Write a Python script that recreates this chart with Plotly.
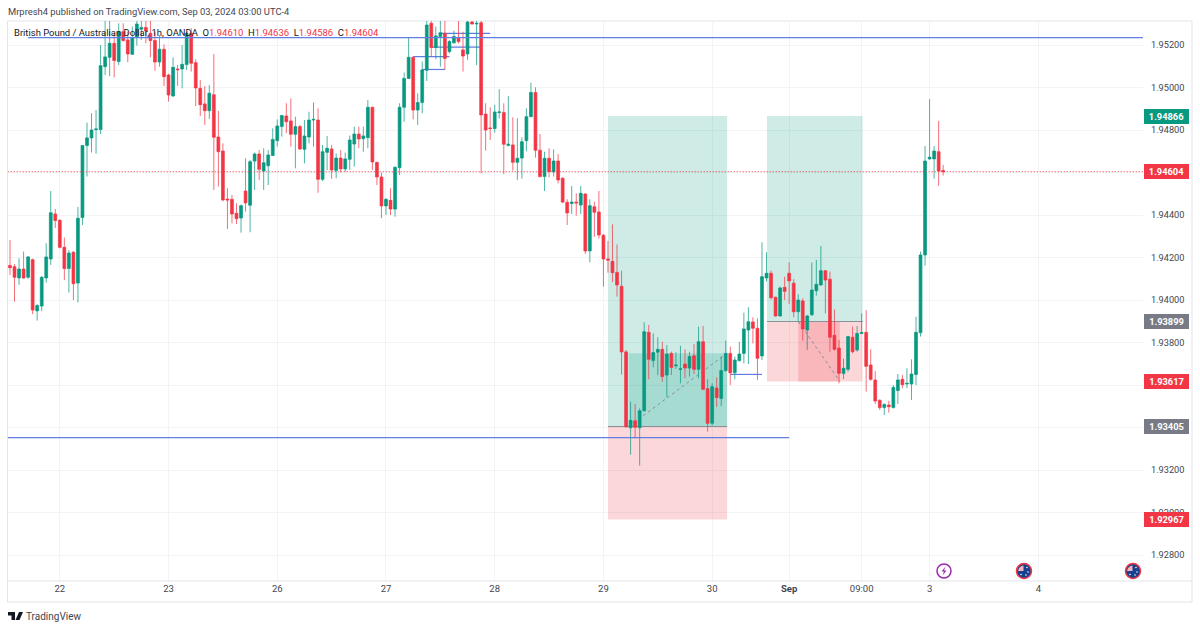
import plotly.graph_objects as go

# OHLC in 1e-5 price units, 1h bars
opens = [194163,194157,194104,194146,194107,194190,193949,193972,194104,194193,
194405,194375,194248,194148,194225,194080,194388,194727,194763,194802,
194802,195098,195142,195208,195122,195263,195224,195156,195235,195274,
195283,195255,195221,195120,195180,195059,194960,195087,195087,195108,
195255,195117,194996,194923,194891,194966,194767,194701,194475,194474,
194408,194386,194513,194446,194654,194687,194607,194632,194680,194750,
194816,194866,194843,194780,194816,194709,194767,194847,194847,194568,
194695,194711,194610,194668,194617,194662,194734,194781,194759,194764,
194907,194648,194579,194443,194469,194428,194623,194907,195043,195142,
194894,194929,195081,195302,195188,195240,195255,195169,195211,195235,
195177,195158,195308,195299,195305,194875,194810,194807,194882,194883,
194728,194730,194648,194668,194750,194863,194977,194705,194581,194667,
194603,194654,194573,194460,194454,194461,194447,194499,194231,194439,
194414,194305,194193,194182,194130,194065,193756,193399,193432,193399,
193479,193848,193715,193754,193768,193647,193749,193691,193674,193699,
193680,193738,193674,193804,193583,193420,193586,193537,193668,193749,
193658,193715,193749,193859,193897,193867,193737,194104,194126,194013,
193925,194060,194126,194079,193945,193996,193859,193931,194044,194071,
194138,194098,193834,193774,193654,193674,193825,193765,193843,193848,
193694,193624,193528,193494,193506,193494,193574,193627,193605,193605,
193650,193846,194212,194664,194664,194698,194610]

highs = [194283,194170,194196,194228,194207,194195,193981,194113,194267,194513,
194428,194380,194294,194235,194230,194438,194730,194835,194879,194894,
195200,195320,195330,195255,195302,195302,195263,195287,195330,195330,
195315,195320,195263,195247,195203,195065,195142,195106,195200,195263,
195279,195133,195035,195007,195012,195158,194890,194737,194526,194494,
194455,194450,194667,194659,194694,194706,194714,194706,194808,194850,
194871,194926,194949,194863,194824,194847,194886,194930,194902,194730,
194772,194730,194690,194706,194694,194774,194816,194816,194816,194941,
194910,194650,194600,194479,194526,194628,194926,195070,195236,195145,
194973,195122,195330,195320,195287,195330,195330,195224,195268,195320,
195263,195330,195340,195330,195330,194926,194907,194918,194992,194926,
194960,194860,194855,194766,194902,195023,195001,194781,194698,194714,
194709,194687,194578,194474,194537,194502,194537,194502,194474,194463,
194513,194310,194278,194356,194262,194138,193765,193522,193511,193490,
193895,193883,193843,193825,193804,193788,193757,193754,193785,193768,
193757,193793,193875,193878,193627,193608,193636,193734,193809,193781,
193734,193804,193941,193966,193919,193914,194272,194225,194138,194016,
194063,194110,194177,194098,194027,194008,193930,194177,194189,194254,
194141,194134,193956,193812,193724,193831,193875,193878,193937,193953,
193768,193666,193533,193514,193526,193600,193652,193647,193679,193721,
193922,194228,194725,194945,194725,194843,194636]

lows = [194118,193992,194071,194100,194100,193934,193903,193949,194082,194165,
194339,194243,194094,194035,194000,193989,194353,194581,194694,194689,
194781,195059,195054,195048,195106,195216,195119,195153,195197,195224,
195208,195142,195079,195098,195007,194934,194957,195007,194996,195083,
195075,194913,194866,194824,194852,194518,194534,194465,194334,194361,
194358,194317,194416,194319,194518,194565,194518,194541,194678,194722,
194769,194785,194722,194620,194706,194643,194737,194722,194505,194560,
194612,194570,194573,194601,194604,194612,194628,194714,194698,194714,
194612,194541,194385,194400,194400,194392,194588,194839,195040,194850,
194824,194879,195031,195145,195133,195098,195083,195161,195205,195208,
195075,195130,195296,195106,194596,194703,194753,194788,194854,194593,
194722,194609,194565,194571,194700,194860,194670,194577,194513,194577,
194581,194549,194455,194353,194405,194397,194405,194217,194177,194298,
194289,194063,194129,194085,194016,193649,193399,193272,193349,193221,
193475,193627,193683,193647,193616,193542,193647,193676,193608,193632,
193640,193652,193632,193575,193381,193410,193498,193501,193663,193600,
193627,193710,193702,193699,193796,193624,193718,194087,194003,193922,
193922,194000,193981,193919,193898,193809,193765,193925,194021,194068,
193937,193757,193762,193608,193628,193663,193750,193757,193840,193569,
193620,193511,193483,193459,193470,193490,193511,193585,193585,193530,
193600,193828,194162,194660,194571,194537,194586]

closes = [194152,194107,194146,194104,194203,193953,193974,194107,194203,194411,
194374,194248,194148,194221,194077,194385,194727,194763,194800,194805,
195103,195144,195208,195127,195263,195221,195158,195235,195299,195283,
195266,195221,195120,195180,195051,194965,195095,195084,195109,195255,
195114,194998,194919,194891,194973,194766,194698,194471,194471,194405,
194383,194444,194457,194651,194687,194615,194646,194683,194756,194819,
194868,194839,194780,194816,194711,194772,194847,194850,194568,194698,
194714,194612,194668,194617,194664,194753,194781,194758,194772,194907,
194650,194579,194443,194474,194428,194625,194907,195043,195142,194894,
194929,195083,195294,195188,195243,195258,195137,195216,195240,195216,
195148,195308,195299,195302,194871,194800,194807,194885,194885,194733,
194733,194648,194667,194745,194863,194977,194705,194581,194667,194604,
194654,194565,194461,194410,194461,194457,194502,194231,194444,194413,
194306,194193,194188,194129,194071,193756,193404,193434,193401,193479,
193851,193721,193753,193768,193640,193746,193683,193694,193676,193680,
193734,193674,193804,193580,193420,193592,193541,193668,193749,193658,
193718,193746,193864,193898,193867,193726,194110,194126,194011,193925,
194057,194041,194090,193945,194000,193864,193925,194047,194074,194138,
194094,193825,193768,193655,193679,193828,193757,193843,193847,193688,
193627,193525,193494,193509,193498,193589,193624,193602,193608,193652,
193848,194212,194654,194672,194701,194607,194604]

tick_bars = [11, 35, 59, 83, 107, 131, 155, 172, 188, 203, 227]
tick_labels = ['22', '23', '26', '27', '28', '29', '30', '<b>Sep</b>', '09:00', '3', '4']

price_ticks = [1.928, 1.930, 1.932, 1.934, 1.936, 1.938, 1.940, 1.942, 1.944, 1.946, 1.948, 1.950, 1.952]
price_tick_labels = ['1.92800', '1.93000', '1.93200', '', '', '1.93800', '1.94000', '1.94200', '1.94400', '', '1.94800', '1.95000', '1.95200']

tag_prices = [1.94866, 1.94604, 1.93899, 1.93617, 1.93405, 1.92967]
tag_colors = ['#089981', '#f23645', '#787b86', '#f23645', '#787b86', '#f23645']

GREEN = '#089981'
RED = '#f23645'
BLUE = '#5f7de2'
FONT = 'Roboto'
W, L, R, T, B = 1200, 8, 1143, 21, 581


def px(x):
    return (x - L) / (R - L)


def py(y):
    return (B - y) / (B - T)


def poly(points, color):
    d = 'M ' + ' L '.join(f'{px(x)} {py(y)}' for x, y in points) + ' Z'
    return dict(type='path', xref='paper', yref='paper', path=d, fillcolor=color, line=dict(width=0))


fig = go.Figure(go.Candlestick(
    x=list(range(len(opens))),
    open=[v / 1e5 for v in opens],
    high=[v / 1e5 for v in highs],
    low=[v / 1e5 for v in lows],
    close=[v / 1e5 for v in closes],
    increasing=dict(line=dict(color='rgba(8,153,129,0.72)', width=1), fillcolor=GREEN),
    decreasing=dict(line=dict(color='rgba(242,54,69,0.72)', width=1), fillcolor=RED),
    hoverinfo='skip',
))

shapes = []


def box(x0, x1, y0, y1, color, layer='between'):
    shapes.append(dict(type='rect', x0=x0, x1=x1, y0=y0, y1=y1, xref='x', yref='y',
                       fillcolor=color, line=dict(width=0), layer=layer))


def seg(x0, x1, y0, y1, color, width=1, dash='solid', layer='between'):
    shapes.append(dict(type='line', x0=x0, x1=x1, y0=y0, y1=y1, xref='x', yref='y',
                       line=dict(color=color, width=width, dash=dash), layer=layer))


# first long position
box(132, 158.3, 1.93405, 1.94866, 'rgba(8,153,129,0.2)')
box(132, 158.3, 1.92967, 1.93405, 'rgba(242,54,69,0.2)')
box(136.6, 158.3, 1.93405, 1.9375, 'rgba(8,153,129,0.2)')
seg(132, 158.3, 1.93405, 1.93405, '#8a8f98')
seg(136.6, 158.3, 1.93405, 1.9375, '#8a8f98', dash='3px,3px')

# second long position
box(167.1, 188.2, 1.93899, 1.94866, 'rgba(8,153,129,0.2)')
box(167.1, 188.2, 1.93617, 1.93899, 'rgba(242,54,69,0.2)')
box(174, 183.2, 1.93617, 1.93899, 'rgba(242,54,69,0.2)')
seg(167.1, 188.2, 1.93899, 1.93899, '#8a8f98')
seg(174, 183.2, 1.93899, 1.93617, '#8a8f98', dash='3px,3px')

# horizontal rays and small levels
seg(4, 250.2, 1.95235, 1.95235, BLUE, width=1.2, layer='above')
seg(-0.5, 172, 1.93353, 1.93353, BLUE, width=1.2, layer='above')
seg(95, 106, 1.95255, 1.95255, BLUE, width=1.2)
seg(93, 104, 1.95190, 1.95190, BLUE, width=1.2)
seg(89, 97, 1.95145, 1.95145, BLUE, width=1.2)
seg(91, 96, 1.95085, 1.95085, BLUE, width=1.2)
seg(159, 166, 1.93650, 1.93650, BLUE, width=1.2)
seg(-0.5, 250.2, 1.94604, 1.94604, RED, dash='1px,2px', layer='above')

# frame and axis line
shapes.append(dict(type='rect', xref='paper', yref='paper', x0=px(7.5), x1=px(1192), y0=py(602), y1=py(21),
                   line=dict(color='#e0e3eb', width=1), layer='below'))
shapes.append(dict(type='line', xref='paper', yref='paper', x0=px(7.5), x1=px(1192), y0=py(581), y1=py(581),
                   line=dict(color='#e0e3eb', width=1), layer='above'))

# event markers
shapes.append(dict(type='circle', xref='paper', yref='paper', x0=px(937), x1=px(951), y0=py(578), y1=py(564),
                   fillcolor='white', line=dict(color='#9c27b0', width=1.5)))
shapes.append(poly([(945.5, 566.5), (941.5, 571.5), (944, 571.5), (942.5, 575.5), (946.5, 570.5), (944, 570.5)],
                   '#9c27b0'))
for cx in [1024, 1133]:
    shapes.append(dict(type='circle', xref='paper', yref='paper', x0=px(cx - 7.5), x1=px(cx + 7.5),
                       y0=py(578.5), y1=py(563.5), fillcolor='#17408f',
                       line=dict(color='#f23645', width=1.5)))
    shapes.append(poly([(cx - 6, 571), (cx - 5, 568), (cx - 2.5, 566), (cx - 0.5, 565.5), (cx - 0.5, 571)], '#f0b4bb'))
    for dx, dy in [(-3, 574.5), (3, 567.5), (4, 572), (2, 575)]:
        shapes.append(dict(type='circle', xref='paper', yref='paper', x0=px(cx + dx - 0.8), x1=px(cx + dx + 0.8),
                           y0=py(dy + 0.8), y1=py(dy - 0.8), fillcolor='white', line=dict(width=0)))

# TradingView mark
shapes.append(poly([(8, 612), (15, 612), (15, 620), (11.5, 620), (11.5, 615.5), (8, 615.5)], '#131722'))
shapes.append(poly([(19, 612), (23, 612), (19.5, 620), (15.5, 620)], '#131722'))

annotations = [
    dict(x=px(6), y=py(11), text='Mrpresh4 published on TradingView.com, Sep 03, 2024 03:00 UTC-4',
         font=dict(size=9.4, color='#434651')),
    dict(x=px(12), y=py(32),
         text='British Pound / Australian Dollar, 1h, OANDA&nbsp;&nbsp;'
              f'O<span style="color:{RED}">1.94610</span>&nbsp;&nbsp;'
              f'H<span style="color:{RED}">1.94636</span>&nbsp;&nbsp;'
              f'L<span style="color:{RED}">1.94586</span>&nbsp;&nbsp;'
              f'C<span style="color:{RED}">1.94604</span>',
         font=dict(size=9.45, color='#131722')),
    dict(x=px(24), y=py(616), text='TradingView', font=dict(size=10, color='#434651')),
]
for a in annotations:
    a.update(xref='paper', yref='paper', xanchor='left', yanchor='middle', showarrow=False)

for price, color in zip(tag_prices, tag_colors):
    annotations.append(dict(x=px(1166), y=price, xref='paper', yref='y', text=f'<b>{price:.5f}</b>',
                            font=dict(size=9.3, color='white', family=FONT), bgcolor=color, bordercolor=color,
                            width=41, height=11, showarrow=False, xanchor='center', yanchor='middle'))

fig.update_layout(
    width=1200,
    height=630,
    margin=dict(l=L, r=W - R, t=T, b=630 - B, autoexpand=False),
    paper_bgcolor='white',
    plot_bgcolor='white',
    font=dict(family=FONT, color='#131722'),
    showlegend=False,
    hovermode=False,
    boxgap=0.25,
    boxgroupgap=0.17,
    shapes=shapes,
    annotations=annotations,
    xaxis=dict(
        range=[-0.44, 250.11],
        rangeslider=dict(visible=False),
        tickmode='array',
        tickvals=tick_bars,
        ticktext=tick_labels,
        tickfont=dict(size=9.5, color='#434651'),
        gridcolor='#f2f3f5',
        showline=False,
        zeroline=False,
        ticks='',
        fixedrange=True,
    ),
    yaxis=dict(
        side='right',
        range=[1.92678, 1.95313],
        tickmode='array',
        tickvals=price_ticks,
        ticktext=price_tick_labels,
        tickfont=dict(size=9.2, color='#434651'),
        gridcolor='#f2f3f5',
        showline=False,
        zeroline=False,
        ticks='',
        ticklabelstandoff=7,
        fixedrange=True,
    ),
)

# page margin off, so the figure fills the window
fig.write_html("out.html", config=dict(displayModeBar=False),
               post_script="document.body.style.margin='0';document.body.style.overflow='hidden';")
